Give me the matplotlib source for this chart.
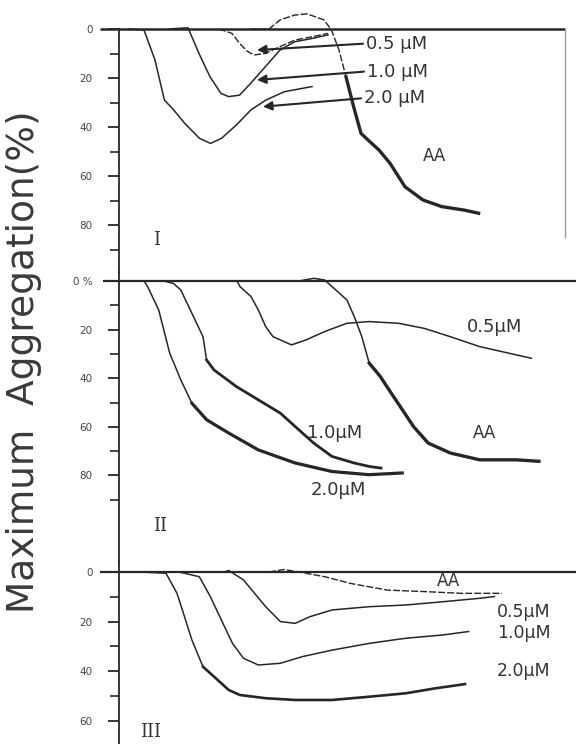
import matplotlib
matplotlib.use("Agg")
import matplotlib.pyplot as plt

plt.rcParams['font.family'] = ['DejaVu Sans']

# ---------------- data (time in arbitrary units, aggregation in %) ----------------
# Panel I
I_05_t = [100, 113, 120.6, 128, 135, 146, 161, 176, 194, 209]
I_05_y = [0, 1.8, 5.9, 9, 10.6, 10, 7.2, 4.5, 3.1, 1.8]
I_10_t = [50, 69, 80, 91, 102, 109.6, 120.6, 131.6, 146.3, 161, 175.7, 194, 209]
I_10_y = [0, -0.5, 10, 19.5, 26.3, 27.6, 27, 22.2, 15.4, 8.6, 5.2, 3.8, 2.4]
I_20_t = [10, 25, 36, 45.4, 54.6, 65.7, 80.4, 91.5, 102.6, 117.3, 132, 146.9, 165.3, 193]
I_20_y = [0, 0.4, 12.7, 29, 33, 38.5, 44.6, 46.7, 44.6, 39.2, 33, 29, 25.6, 23.5]
I_AA_t = [131.6, 150, 161, 175.7, 188, 205, 212.5, 220, 227, 234.6, 242, 249, 260,
          271, 286, 304, 322.8, 345, 359.6]
I_AA_y = [0, 0, -3.7, -5.7, -6.2, -3.7, 0.4, 8.6, 19.5, 31.7, 42.6, 45.3, 49.4,
          54.8, 64.4, 69.8, 72.5, 73.9, 75.2]
I_arrow_head_t = [138, 138, 144]
I_arrow_head_y = [8.6, 20.8, 31.7]
I_arrow_tail_t = [244, 245, 242]
I_arrow_tail_y = [6.0, 17.4, 28.3]
I_labels = ["0.5 µM", "1.0 µM", "2.0 µM"]

# Panel II
II_05_t = [118, 121, 132, 139.3, 146.7, 154, 172.5, 187.3, 205.7, 227.9, 250, 279.5,
           305.3, 331.2, 360.7, 412.4]
II_05_y = [0, 2.3, 6.4, 11.9, 18.8, 22.9, 26.3, 24.2, 20.8, 17.4, 16.7, 17.4,
           19.5, 22.9, 27, 31.8]
II_10_t = [45, 54.4, 61.8, 72.9, 84, 87.6, 95, 117.2, 139.3, 161.4, 176.2, 194.7,
           213, 235.2, 250, 262]
II_10_y = [0, 1, 3.7, 13.3, 22.9, 32.5, 36.6, 43.4, 48.9, 54.4, 59.9, 66.7,
           72.2, 74.9, 76.3, 77]
II_20_t = [25, 28.6, 39.7, 50.7, 61.8, 72.9, 87.6, 109.8, 139.3, 176.2, 213, 250, 283.2]
II_20_y = [0, 2.3, 11.9, 29.7, 40.7, 50.3, 57.1, 62.6, 69.5, 74.9, 78.4, 79.7, 79]
II_AA_t = [180, 194.7, 205.7, 216.8, 227.9, 235.3, 242.8, 250.2, 261.3, 272.3, 283.4,
           294.5, 309.2, 331.4, 360.9, 397.8, 419.9]
II_AA_y = [0, -1.1, -0.4, 3.7, 7.8, 14.7, 22.9, 33.8, 39.3, 46.2, 53,
           59.9, 66.7, 70.8, 73.6, 73.6, 74.2]

# Panel III
III_05_t = [105, 109.8, 124.5, 135.6, 146.7, 161.4, 176.2, 191, 213.1, 250, 286.9,
            323.8, 360.7, 375.5]
III_05_y = [0, -0.6, 3.2, 8.6, 14, 20, 20.7, 18, 15.3, 14, 13.3, 12, 10.6, 9.9]
III_10_t = [60, 80.3, 91.3, 102.4, 113.5, 124.5, 139.3, 161.4, 183.6, 213.1, 250,
            286.9, 323.8, 349.6]
III_10_y = [0, 1.9, 9.9, 19.4, 28.8, 34.8, 37.5, 36.8, 34.1, 31.5, 28.8, 26.7, 25.4, 24]
III_20_t = [21.2, 47, 58, 65.5, 72.9, 84, 95, 109.8, 120.9, 146.7, 176.2, 213, 250,
            286.9, 316.4, 346]
III_20_y = [0, 0.5, 8.6, 18, 27.4, 38.2, 42.2, 47.6, 49.6, 50.9, 51.6, 51.6, 50.3,
            48.9, 46.9, 45.2]
III_AA_t = [150, 165, 180, 205.7, 231.5, 268.5, 305.4, 342.3, 382.9]
III_AA_y = [0, -1, 0, 1.9, 4.6, 7.3, 7.9, 8.6, 8.6]

I_ticks = [0, 20, 40, 60, 80]
I_ticklabels = ["0", "20", "40", "60", "80"]
II_ticks = [0, 20, 40, 60, 80]
II_ticklabels = ["0 %", "20", "40", "60", "80"]
III_ticks = [0, 20, 40, 60]
III_ticklabels = ["0", "20", "40", "60"]

# ---------------- layout ----------------
W, H = 576, 744
SPINE_X = 119
fig = plt.figure(figsize=(W / 100, H / 100), dpi=100)
fig.patch.set_facecolor("white")
INK = "#262626"


def make_ax(top_px, bot_px, zero_px, px_per_unit, ticks, ticklabels, minors,
            spine_from_zero):
    ax = fig.add_axes([SPINE_X / W, 1 - bot_px / H, (W - SPINE_X) / W,
                       (bot_px - top_px) / H])
    ax.set_xlim(0, W - SPINE_X)
    ax.set_ylim((bot_px - zero_px) / px_per_unit, (top_px - zero_px) / px_per_unit)
    ax.patch.set_alpha(0)
    for s in ["top", "right", "bottom"]:
        ax.spines[s].set_visible(False)
    ax.spines["left"].set_linewidth(1.3)
    ax.spines["left"].set_color(INK)
    if spine_from_zero:
        ax.spines["left"].set_bounds(0, (bot_px - zero_px) / px_per_unit)
    ax.set_xticks([])
    ax.set_yticks(ticks)
    ax.set_yticklabels(ticklabels)
    ax.set_yticks(minors, minor=True)
    ax.tick_params(axis="y", which="major", length=8, width=1.3, color=INK,
                   pad=11, labelsize=7.5, labelcolor="#444444")
    ax.tick_params(axis="y", which="minor", length=6.5, width=1.2, color=INK)
    return ax


axI = make_ax(5, 272, 29, 2.45, I_ticks, I_ticklabels, [10, 30, 50, 70, 90], True)
axII = make_ax(272, 562, 281, 2.43, II_ticks, II_ticklabels, [10, 30, 50, 70, 90], False)
axIII = make_ax(562, 744, 572, 2.48, III_ticks, III_ticklabels, [10, 30, 50], False)

# baselines (0 % line)
axI.plot([-19, 446], [0, 0], color=INK, lw=1.8, clip_on=False, solid_capstyle="butt")
axII.plot([-16, 457], [0, 0], color=INK, lw=1.6, clip_on=False, solid_capstyle="butt")
axIII.plot([-19, 457], [0, 0], color=INK, lw=1.6, clip_on=False, solid_capstyle="butt")
axI.plot([446, 446], [0, 85], color="#9a9a9a", lw=1.0, clip_on=False)

thin = dict(color=INK, lw=1.1)
dashed = dict(color=INK, lw=1.0, dashes=(5, 1.5))
thick = dict(color=INK, lw=2.4)

# Panel I traces
axI.plot(I_05_t, I_05_y, **dashed)
axI.plot(I_10_t, I_10_y, **thin)
axI.plot(I_20_t, I_20_y, **thin)
axI.plot(I_AA_t[:9], I_AA_y[:9], **dashed)
axI.plot(I_AA_t[8:], I_AA_y[8:], **thick)
for ht, hy, tt, ty, lab in zip(I_arrow_head_t, I_arrow_head_y, I_arrow_tail_t,
                               I_arrow_tail_y, I_labels):
    axI.annotate("", xy=(ht, hy), xytext=(tt, ty),
                 arrowprops=dict(arrowstyle="-|>", color=INK, lw=1.5,
                                 mutation_scale=13, shrinkA=0, shrinkB=0))
    axI.text(tt + 3, ty, lab, fontsize=13, color="#333333", ha="left", va="center")
axI.text(304, 52, "AA", fontsize=12, color="#333333", ha="left", va="center")
axI.text(38, 86, "I", fontsize=13, family="DejaVu Serif", color="#333333",
         ha="center", va="center")

# Panel II traces
axII.plot(II_05_t, II_05_y, **thin)
axII.plot(II_10_t[:6], II_10_y[:6], **thin)
axII.plot(II_10_t[5:], II_10_y[5:], color=INK, lw=2.0)
axII.plot(II_20_t[:6], II_20_y[:6], **thin)
axII.plot(II_20_t[5:], II_20_y[5:], color=INK, lw=2.3)
axII.plot(II_AA_t[:8], II_AA_y[:8], **thin)
axII.plot(II_AA_t[7:], II_AA_y[7:], **thick)
axII.text(348, 19, "0.5µM", fontsize=13, color="#333333", ha="left", va="center")
axII.text(188, 62.6, "1.0µM", fontsize=13, color="#333333", ha="left", va="center")
axII.text(192, 86, "2.0µM", fontsize=13, color="#333333", ha="left", va="center")
axII.text(354, 62.6, "AA", fontsize=12, color="#333333", ha="left", va="center")
axII.text(41, 101, "II", fontsize=13, family="DejaVu Serif", color="#333333",
          ha="center", va="center")

# Panel III traces
axIII.plot(III_05_t, III_05_y, **thin)
axIII.plot(III_10_t, III_10_y, **thin)
axIII.plot(III_20_t[:6], III_20_y[:6], **thin)
axIII.plot(III_20_t[5:], III_20_y[5:], color=INK, lw=1.9)
axIII.plot(III_AA_t, III_AA_y, **dashed)
axIII.text(318, 3.5, "AA", fontsize=12, color="#333333", ha="left", va="center")
axIII.text(378, 16, "0.5µM", fontsize=12.5, color="#333333", ha="left", va="center")
axIII.text(378, 24.5, "1.0µM", fontsize=12.5, color="#333333", ha="left", va="center")
axIII.text(378, 40, "2.0µM", fontsize=12.5, color="#333333", ha="left", va="center")
axIII.text(32, 64.5, "III", fontsize=13, family="DejaVu Serif", color="#333333",
           ha="center", va="center")

fig.text(24 / W, 1 - 362 / H, "Maximum  Aggregation(%)", rotation=90, fontsize=27,
         color="#3a3a3a", ha="center", va="center")

fig.savefig("out.png", dpi=100, facecolor="white")
